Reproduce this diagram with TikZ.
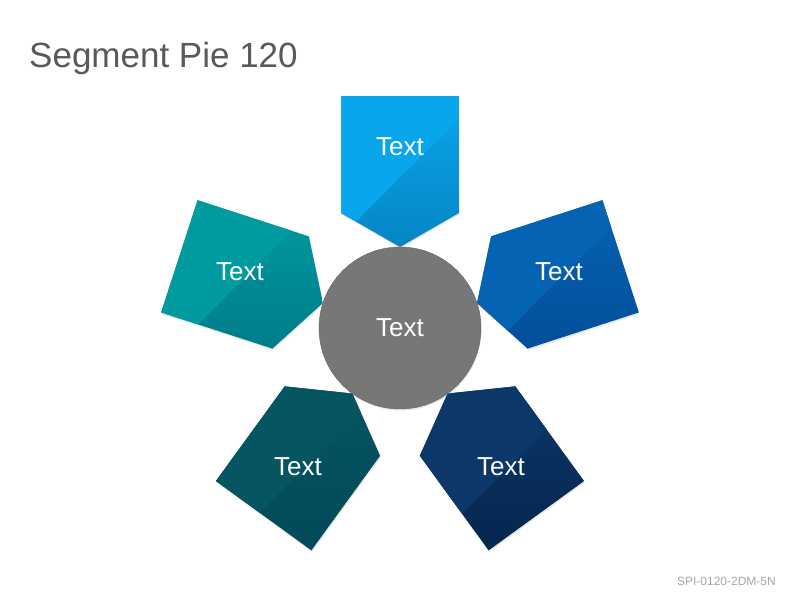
\documentclass[tikz,border=0pt]{standalone}
\usepackage{fontspec}
\setmainfont{Liberation Sans}
\usetikzlibrary{shadows}
\definecolor{skylight}{HTML}{0AA6EB}
\definecolor{skydark}{HTML}{0585C5}
\definecolor{tealight}{HTML}{009B9F}
\definecolor{teadark}{HTML}{007D8B}
\definecolor{pinelight}{HTML}{055660}
\definecolor{pinedark}{HTML}{03495A}
\definecolor{navylight}{HTML}{0B3769}
\definecolor{navydark}{HTML}{05264E}
\definecolor{bluelight}{HTML}{0563B3}
\definecolor{bluedark}{HTML}{044E99}
\definecolor{hubgray}{HTML}{777777}
\definecolor{titlegray}{HTML}{595959}
\definecolor{codegray}{HTML}{A6A6A6}
\tikzset{%
  petal/.style 2 args={% light colour, dark colour
    top color=#1, bottom color=#2,
    drop shadow={shadow xshift=0.6pt, shadow yshift=-1.5pt, opacity=0.2},
    path picture={\fill[#1, shift={(path picture bounding box.center)}]
      (-300,-306) -- (300,294) -- (-300,294) -- cycle;}
  },
  hub/.style={circle, fill=hubgray, draw=hubgray!85!black, thin, minimum size=162pt,
    drop shadow={shadow xshift=0.6pt, shadow yshift=-1.5pt, opacity=0.2}},
  lbl/.style={text=white, font=\fontsize{26}{30}\selectfont, inner sep=0pt},
  title/.style={text=titlegray, font=\fontsize{35}{40}\selectfont, inner sep=0pt},
  code/.style={text=codegray, font=\fontsize{12}{14}\selectfont, inner sep=0pt}
}

\begin{document}
\begin{tikzpicture}[x=1pt, y=1pt]
  \useasboundingbox (-400,-272) rectangle (400,328);
  \node[title, anchor=base west] (head) at (-371,260) {Segment Pie 120};
  \node[code, anchor=base east] (ref) at (376,-257) {SPI-0120-2DM-5N};
  % the five segments round the hub
  \shade[petal={skylight}{skydark}] (90:81) -- (62.84:129.25) -- (75.73:239.38)
    -- (104.27:239.38) -- (117.16:129.25) -- cycle;
  \shade[petal={tealight}{teadark}] (162:81) -- (134.84:129.25) -- (147.73:239.38)
    -- (176.27:239.38) -- (189.16:129.25) -- cycle;
  \shade[petal={pinelight}{pinedark}] (234:81) -- (206.84:129.25) -- (219.73:239.38)
    -- (248.27:239.38) -- (261.16:129.25) -- cycle;
  \shade[petal={navylight}{navydark}] (306:81) -- (278.84:129.25) -- (291.73:239.38)
    -- (320.27:239.38) -- (333.16:129.25) -- cycle;
  \shade[petal={bluelight}{bluedark}] (18:81) -- (350.84:129.25) -- (3.73:239.38)
    -- (32.27:239.38) -- (45.16:129.25) -- cycle;
  \node[hub] (hub) at (0,0) {};
  \node[lbl] (hubtext) at (0,0) {Text};
  \node[lbl] (top) at (0,181) {Text};
  \node[lbl] (upleft) at (-160,56) {Text};
  \node[lbl] (upright) at (159,56) {Text};
  \node[lbl] (lowleft) at (-102,-139) {Text};
  \node[lbl] (lowright) at (101,-139) {Text};
\end{tikzpicture}
\end{document}
